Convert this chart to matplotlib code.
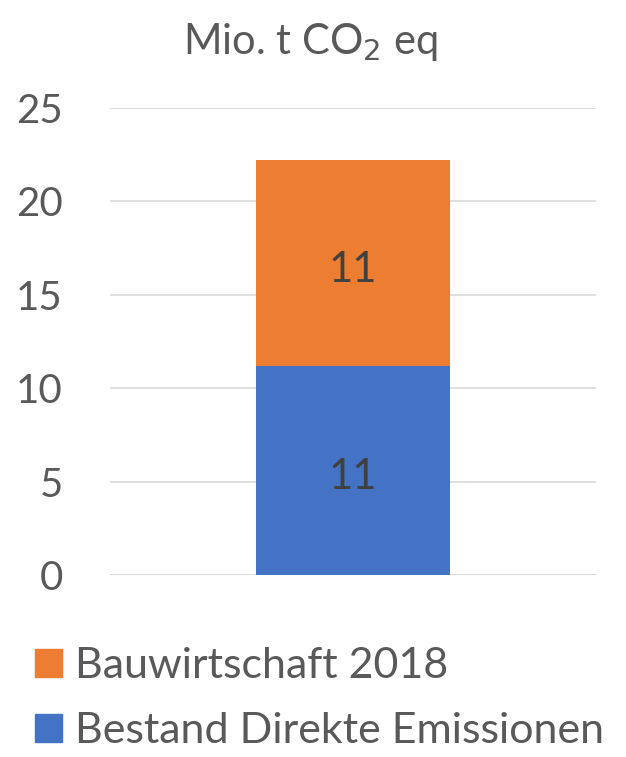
import matplotlib.pyplot as plt
from matplotlib.patches import Patch

plt.rcParams['font.family'] = ['Lato', 'DejaVu Sans']

categories = ['']
bestand = [11.2]
bauwirtschaft = [11.0]
labels_bestand = ['11']
labels_bau = ['11']
legend_labels = ['Bauwirtschaft 2018', 'Bestand Direkte Emissionen']
yticks = [0, 5, 10, 15, 20, 25]

blue = '#4472C4'
orange = '#ED7D31'
grey = '#595959'

fig = plt.figure(figsize=(6.26, 7.57), dpi=100)
ax = fig.add_axes([0.176, 0.2404, 0.776, 0.6169])

x = list(range(len(categories)))
ax.bar(x, bestand, width=0.4, color=blue, zorder=3)
ax.bar(x, bauwirtschaft, bottom=bestand, width=0.4, color=orange, zorder=3)

# data labels, nudged a little below centre like the original
for i in x:
    ax.annotate(labels_bestand[i], (i, bestand[i] / 2), xytext=(0, -5),
                textcoords='offset points', ha='center', va='center',
                fontsize=30, color='#404040', zorder=4)
    ax.annotate(labels_bau[i], (i, bestand[i] + bauwirtschaft[i] / 2), xytext=(0, -5),
                textcoords='offset points', ha='center', va='center',
                fontsize=30, color='#404040', zorder=4)

ax.set_xlim(-0.5, 0.5)
ax.set_ylim(0, 25)
ax.set_yticks(yticks)
ax.set_yticklabels([str(t) for t in yticks], fontsize=29, color=grey)
ax.set_xticks([])
ax.tick_params(axis='y', length=0, pad=34)
ax.grid(axis='y', color='#D9D9D9', linewidth=1.2, zorder=0)
for s in ax.spines.values():
    s.set_visible(False)
ax.axhline(0, color='#D9D9D9', linewidth=1.2, zorder=1)

fig.text(0.495, 0.945, 'Mio. t CO$_2$ eq', ha='center', va='center', fontsize=30, color=grey)

handles = [Patch(color=orange), Patch(color=blue)]
fig.legend(handles, legend_labels,
           loc='center left', bbox_to_anchor=(0.056, 0.077), frameon=False,
           borderaxespad=0, borderpad=0,
           fontsize=31, labelcolor=grey, handlelength=0.63, handleheight=0.63,
           handletextpad=0.3, labelspacing=0.62)

fig.savefig('out.png', dpi=100)
